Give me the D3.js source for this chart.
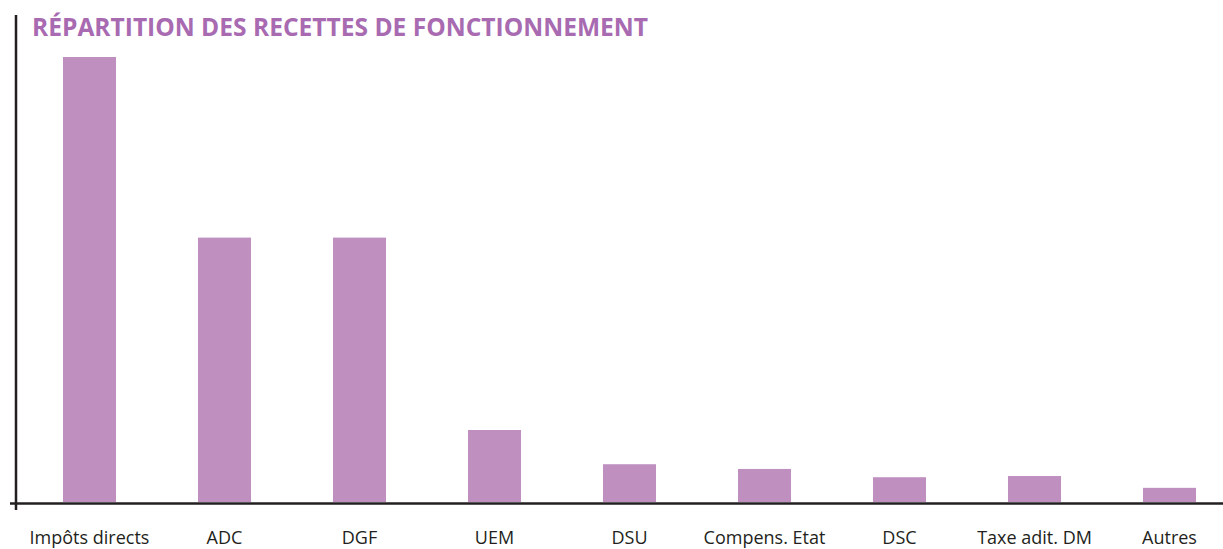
<!DOCTYPE html>
<html>
<head>
<meta charset="utf-8">
<script src="https://cdn.jsdelivr.net/npm/d3@7"></script>
<style>
  body { margin: 0; background: #fff; }
  svg text { font-family: "Open Sans", "Noto Sans", sans-serif; }
</style>
</head>
<body>
<div id="chart"></div>
<script>
// chart data (share of operating revenue)
var categories = ["Impôts directs", "ADC", "DGF", "UEM", "DSU", "Compens. Etat", "DSC", "Taxe adit. DM", "Autres"];
var values = [37.7, 22.4, 22.4, 6.1, 3.2, 2.8, 2.1, 2.2, 1.2];
var title = "RÉPARTITION DES RECETTES DE FONCTIONNEMENT";

var width = 1223, height = 549;
var baseY = 502;

var svg = d3.select("#chart")
  .append("svg")
    .attr("width", width)
    .attr("height", height);

// scales
var x = d3.scaleBand()
    .domain(categories)
    .range([22, 1237])
    .paddingInner(0.607)
    .paddingOuter(0.3035);

var y = d3.scaleLinear()
    .domain([0, 37.7])
    .range([baseY, 57]);

// bars
svg.append("g")
  .selectAll("rect")
  .data(categories)
  .enter()
  .append("rect")
    .attr("x", function(d) { return x(d); })
    .attr("y", function(d, i) { return y(values[i]); })
    .attr("width", x.bandwidth())
    .attr("height", function(d, i) { return baseY - y(values[i]); })
    .attr("fill", "#BF8FC0");

// axes lines
svg.append("line")
  .attr("x1", 16).attr("x2", 16)
  .attr("y1", 15).attr("y2", 510)
  .attr("stroke", "#231f20")
  .attr("stroke-width", 2.5);

svg.append("line")
  .attr("x1", 10).attr("x2", 1223)
  .attr("y1", 503.5).attr("y2", 503.5)
  .attr("stroke", "#231f20")
  .attr("stroke-width", 2.5);

// category labels
svg.append("g")
  .selectAll("text")
  .data(categories)
  .enter()
  .append("text")
    .attr("x", function(d) { return x(d) + x.bandwidth() / 2; })
    .attr("y", 544)
    .attr("text-anchor", "middle")
    .style("font-size", "18px")
    .attr("fill", "#231f20")
    .text(function(d) { return d; });

// title
svg.append("text")
  .attr("x", 32)
  .attr("y", 36)
  .attr("fill", "#A86AB0")
  .style("font-size", "25px")
  .style("font-weight", "bold")
  .attr("textLength", 616)
  .attr("lengthAdjust", "spacingAndGlyphs")
  .text(title);
</script>
</body>
</html>
